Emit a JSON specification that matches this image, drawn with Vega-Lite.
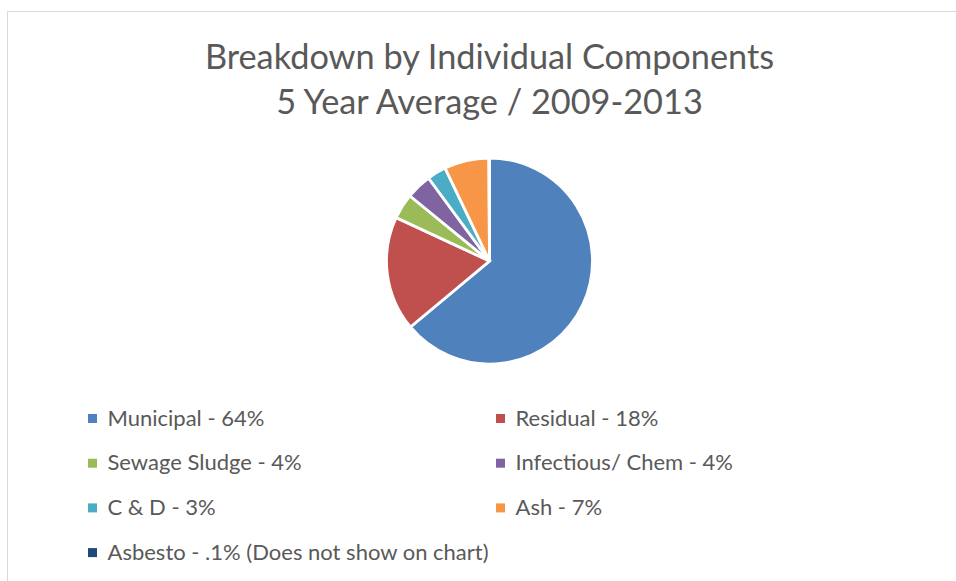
{
  "$schema": "https://vega.github.io/schema/vega-lite/v6.json",
  "width": 964,
  "height": 580,
  "autosize": {"type": "none"},
  "padding": {"left": 7.5, "top": 11.5, "right": 0, "bottom": 0},
  "background": "#ffffff",
  "title": {
    "text": ["Breakdown by Individual Components", "5 Year Average / 2009-2013"],
    "font": "Lato",
    "fontSize": 34.3,
    "fontWeight": "normal",
    "color": "#595959",
    "lineHeight": 45,
    "anchor": "middle",
    "frame": "group",
    "offset": -110
  },
  "data": {
    "values": [
      {"idx": 1, "component": "Municipal - 64%", "share": 64},
      {"idx": 2, "component": "Residual - 18%", "share": 18},
      {"idx": 3, "component": "Sewage Sludge - 4%", "share": 4},
      {"idx": 4, "component": "Infectious/ Chem - 4%", "share": 4},
      {"idx": 5, "component": "C & D - 3%", "share": 3},
      {"idx": 6, "component": "Ash - 7%", "share": 7},
      {"idx": 7, "component": "Asbesto - .1% (Does not show on chart)", "share": 0.1}
    ]
  },
  "layer": [
    {
      "data": {"values": [{"frame": "chart area"}]},
      "mark": {"type": "rect", "fill": null, "stroke": "#d9d9d9", "strokeWidth": 1},
      "encoding": {}
    },
    {
      "mark": {"type": "arc", "outerRadius": 103, "stroke": "#ffffff", "strokeWidth": 2.8, "yOffset": -40.5},
      "encoding": {
        "theta": {"field": "share", "type": "quantitative", "stack": true},
        "order": {"field": "idx", "type": "quantitative", "sort": "ascending"},
        "color": {
          "field": "component",
          "type": "nominal",
          "sort": null,
          "scale": {
            "domain": ["Municipal - 64%", "Residual - 18%", "Sewage Sludge - 4%", "Infectious/ Chem - 4%", "C & D - 3%", "Ash - 7%", "Asbesto - .1% (Does not show on chart)"],
            "range": ["#4F81BD", "#C0504D", "#9BBB59", "#8064A2", "#4BACC6", "#F79646", "#1F497D"]
          },
          "legend": {
            "title": null,
            "orient": "none",
            "legendX": 74,
            "legendY": 396,
            "columns": 2,
            "direction": "horizontal",
            "symbolType": "square",
            "symbolSize": 81,
            "symbolStrokeWidth": 0,
            "labelFont": "Lato",
            "labelFontSize": 22,
            "labelColor": "#595959",
            "labelOffset": 4,
            "labelLimit": 600,
            "rowPadding": 22.7,
            "columnPadding": 0,
            "padding": 0
          }
        }
      }
    }
  ],
  "config": {
    "view": {"stroke": null}
  }
}
